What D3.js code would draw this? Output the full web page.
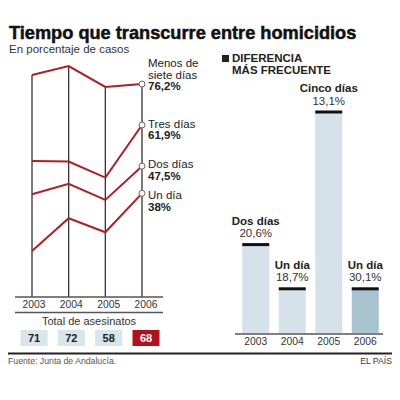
<!DOCTYPE html>
<html>
<head>
<meta charset="utf-8">
<title>Tiempo que transcurre entre homicidios</title>
<style>
  body { margin: 0; background: #fff; }
  svg text { font-family: "Liberation Sans", Arial, sans-serif; }
</style>
</head>
<body>
<div id="chart"></div>
<script src="https://cdnjs.cloudflare.com/ajax/libs/d3/7.8.5/d3.min.js"></script>
<script>
// data
const years = ["2003", "2004", "2005", "2006"];
const menosSiete = [79.4, 82.5, 75.2, 76.2];
const tresDias = [49.3, 49.1, 43.5, 61.9];
const dosDias = [37.7, 41.3, 35.7, 47.5];
const unDia = [17.8, 29.3, 24.4, 38];
const serieNames = ["Menos de|siete días", "Tres días", "Dos días", "Un día"];
const serieLabels = ["76,2%", "61,9%", "47,5%", "38%"];
const totales = [71, 72, 58, 68];
const difNames = ["Dos días", "Un día", "Cinco días", "Un día"];
const difDias = [2, 1, 5, 1];
const difPct = ["20,6%", "18,7%", "13,1%", "30,1%"];

const W = 400, H = 400;
const red = "#b01e23";
const svg = d3.select("#chart").append("svg")
  .attr("width", W).attr("height", H);

// titles
svg.append("text").attr("x", 9).attr("y", 39)
  .attr("font-size", "18.2px").attr("font-weight", "bold").attr("fill", "#111")
  .attr("stroke", "#111").attr("stroke-width", 0.5)
  .text("Tiempo que transcurre entre homicidios");
svg.append("text").attr("x", 9).attr("y", 53)
  .attr("font-size", "11.5px").attr("fill", "#333")
  .text("En porcentaje de casos");

// ---- left: lines
const x = d3.scalePoint().domain(years).range([32, 142]);
const xLab = d3.scalePoint().domain(years).range([34, 146]);
const y = d3.scaleLinear().domain([0, 100]).range([302, 16]);

const series = [menosSiete, tresDias, dosDias, unDia];

svg.append("g").selectAll("line")
  .data(years)
  .enter().append("line")
  .attr("x1", d => x(d)).attr("x2", d => x(d))
  .attr("y1", (d, i) => y(menosSiete[i]))
  .attr("y2", 297)
  .attr("stroke", "#333").attr("stroke-width", 1.3);

svg.append("line").attr("x1", 15).attr("x2", 163)
  .attr("y1", 297).attr("y2", 297)
  .attr("stroke", "#555").attr("stroke-width", 1.5);

const line = d3.line()
  .x((d, i) => x(years[i]))
  .y(d => y(d));

svg.append("g").selectAll("path")
  .data(series)
  .enter().append("path")
  .attr("d", line)
  .attr("fill", "none")
  .attr("stroke", red)
  .attr("stroke-width", 2);

svg.append("g").selectAll("circle")
  .data(series)
  .enter().append("circle")
  .attr("cx", x("2006"))
  .attr("cy", d => y(d[3]))
  .attr("r", 3)
  .attr("fill", "#fff")
  .attr("stroke", "#666")
  .attr("stroke-width", 1);

// labels to the right of the lines
const nameOff = [-17, 3, 2, 6];
const lab = svg.append("g");
series.forEach((s, i) => {
  const cy = y(s[3]);
  const parts = serieNames[i].split("|");
  parts.forEach((p, j) => {
    lab.append("text").attr("x", 148).attr("y", cy + nameOff[i] + j * 11.5)
      .attr("font-size", "11.5px").attr("fill", "#222").text(p);
  });
  lab.append("text").attr("x", 148)
    .attr("y", cy + nameOff[i] + parts.length * 11.5)
    .attr("font-size", "11.5px").attr("font-weight", "bold").attr("fill", "#222")
    .text(serieLabels[i]);
});

// years + totals
svg.append("g").selectAll("text")
  .data(years)
  .enter().append("text")
  .attr("x", d => xLab(d)).attr("y", 308)
  .attr("text-anchor", "middle").attr("font-size", "10.3px").attr("fill", "#333")
  .text(d => d);

svg.append("line").attr("x1", 15).attr("x2", 163)
  .attr("y1", 312.5).attr("y2", 312.5)
  .attr("stroke", "#555").attr("stroke-width", 1.5);

svg.append("text").attr("x", 89).attr("y", 325)
  .attr("text-anchor", "middle").attr("font-size", "11px").attr("fill", "#333")
  .text("Total de asesinatos");

const boxes = svg.append("g").selectAll("g")
  .data(totales)
  .enter().append("g");
boxes.append("rect")
  .attr("x", (d, i) => xLab(years[i]) - 13.5)
  .attr("y", 330).attr("width", 27).attr("height", 16)
  .attr("fill", (d, i) => i === 3 ? "#b3121b" : "#d9e4eb");
boxes.append("text")
  .attr("x", (d, i) => xLab(years[i]))
  .attr("y", 342)
  .attr("text-anchor", "middle").attr("font-size", "11px").attr("font-weight", "bold")
  .attr("fill", (d, i) => i === 3 ? "#fff" : "#222")
  .text(d => d);

// ---- right: bars
svg.append("rect").attr("x", 222).attr("y", 55).attr("width", 7).attr("height", 7)
  .attr("fill", "#222");
svg.append("text").attr("x", 232).attr("y", 62)
  .attr("font-size", "11.5px").attr("font-weight", "bold").attr("fill", "#222")
  .text("DIFERENCIA");
svg.append("text").attr("x", 232).attr("y", 74)
  .attr("font-size", "11.5px").attr("font-weight", "bold").attr("fill", "#222")
  .text("MÁS FRECUENTE");

const xb = d3.scaleBand().domain(years).range([237.5, 383.5])
  .paddingInner(0.26).paddingOuter(0.13);
const yb = d3.scaleLinear().domain([0, 5]).range([333, 112]);

const bars = svg.append("g").selectAll("g")
  .data(difDias)
  .enter().append("g");
bars.append("rect")
  .attr("x", (d, i) => xb(years[i]))
  .attr("y", d => yb(d))
  .attr("width", xb.bandwidth())
  .attr("height", d => yb(0) - yb(d))
  .attr("fill", (d, i) => i === 3 ? "#a8c4d1" : "#d6e2ea");
bars.append("rect")
  .attr("x", (d, i) => xb(years[i]))
  .attr("y", d => yb(d) - 1.5)
  .attr("width", xb.bandwidth())
  .attr("height", 3)
  .attr("fill", "#111");
bars.append("text")
  .attr("x", (d, i) => xb(years[i]) + xb.bandwidth() / 2)
  .attr("y", d => yb(d) - 20)
  .attr("text-anchor", "middle").attr("font-size", "11.5px").attr("font-weight", "bold")
  .attr("fill", "#222")
  .text((d, i) => difNames[i]);
bars.append("text")
  .attr("x", (d, i) => xb(years[i]) + xb.bandwidth() / 2)
  .attr("y", d => yb(d) - 7.5)
  .attr("text-anchor", "middle").attr("font-size", "11.5px")
  .attr("fill", "#333")
  .text((d, i) => difPct[i]);

svg.append("line").attr("x1", 235).attr("x2", 383)
  .attr("y1", 334).attr("y2", 334)
  .attr("stroke", "#555").attr("stroke-width", 1.5);

svg.append("g").selectAll("text")
  .data(years)
  .enter().append("text")
  .attr("x", d => xb(d) + xb.bandwidth() / 2).attr("y", 345)
  .attr("text-anchor", "middle").attr("font-size", "10.3px").attr("fill", "#333")
  .text(d => d);

// footer
svg.append("line").attr("x1", 8).attr("x2", 392)
  .attr("y1", 353.5).attr("y2", 353.5)
  .attr("stroke", "#222").attr("stroke-width", 2);
svg.append("text").attr("x", 8).attr("y", 364)
  .attr("font-size", "8.7px").attr("fill", "#555")
  .text("Fuente: Junta de Andalucía.");
svg.append("text").attr("x", 392).attr("y", 364)
  .attr("text-anchor", "end").attr("font-size", "8.7px").attr("fill", "#333")
  .text("EL PAÍS");
</script>
</body>
</html>
